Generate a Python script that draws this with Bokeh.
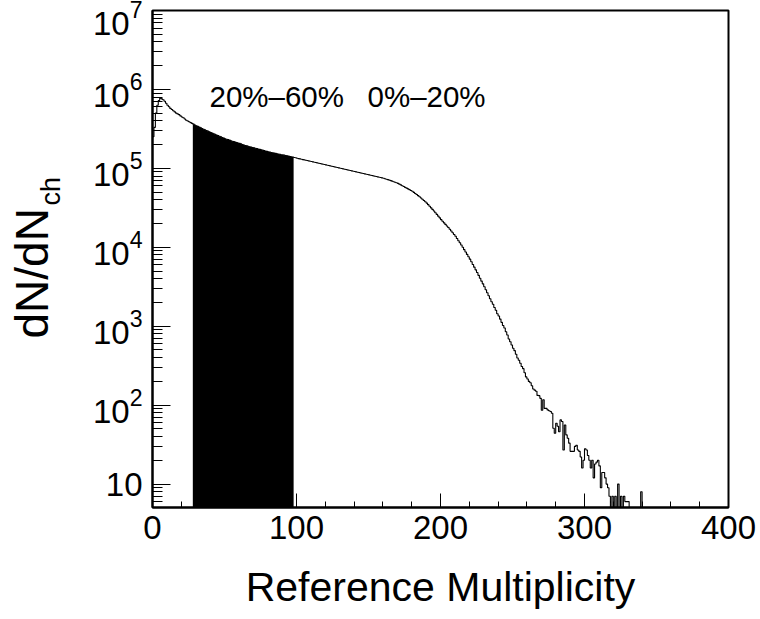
from bokeh.plotting import figure
from bokeh.models import FixedTicker, LogTickFormatter, Label, Range1d, Title
from bokeh.embed import file_html
from bokeh.resources import INLINE

# ---- data: histogram of reference multiplicity, bin width 1, bins start at 0 ----
bin_width = 1
counts = [
    # 0-9
    2.51e5, 3.31e5, 5.01e5, 6.31e5, 7.24e5, 7.76e5, 7.59e5, 7.41e5, 7.08e5, 6.68e5,
    # 10-19
    6.31e5, 6.03e5, 5.75e5, 5.56e5, 5.37e5, 5.19e5, 5.01e5, 4.90e5, 4.79e5, 4.62e5,
    # 20-29
    4.47e5, 4.37e5, 4.22e5, 4.07e5, 3.98e5, 3.89e5, 3.80e5, 3.72e5, 3.63e5, 3.55e5,
    # 30-39
    3.47e5, 3.40e5, 3.33e5, 3.26e5, 3.19e5, 3.13e5, 3.07e5, 3.01e5, 2.96e5, 2.90e5,
    # 40-49
    2.85e5, 2.80e5, 2.75e5, 2.70e5, 2.65e5, 2.60e5, 2.55e5, 2.51e5, 2.46e5, 2.42e5,
    # 50-59
    2.37e5, 2.34e5, 2.31e5, 2.28e5, 2.24e5, 2.21e5, 2.18e5, 2.15e5, 2.12e5, 2.09e5,
    # 60-69
    2.07e5, 2.04e5, 2.01e5, 1.98e5, 1.95e5, 1.93e5, 1.91e5, 1.88e5, 1.86e5, 1.84e5,
    # 70-79
    1.82e5, 1.80e5, 1.78e5, 1.76e5, 1.74e5, 1.72e5, 1.70e5, 1.68e5, 1.66e5, 1.64e5,
    # 80-89
    1.62e5, 1.61e5, 1.59e5, 1.58e5, 1.56e5, 1.55e5, 1.53e5, 1.52e5, 1.51e5, 1.49e5,
    # 90-99
    1.48e5, 1.47e5, 1.45e5, 1.44e5, 1.43e5, 1.41e5, 1.40e5, 1.39e5, 1.37e5, 1.36e5,
    # 100-109
    1.343e5, 1.330e5, 1.317e5, 1.304e5, 1.292e5, 1.279e5, 1.267e5, 1.255e5, 1.243e5, 1.231e5,
    # 110-119
    1.219e5, 1.207e5, 1.196e5, 1.184e5, 1.173e5, 1.161e5, 1.150e5, 1.139e5, 1.128e5, 1.117e5,
    # 120-129
    1.106e5, 1.096e5, 1.085e5, 1.075e5, 1.064e5, 1.054e5, 1.044e5, 1.034e5, 1.024e5, 1.014e5,
    # 130-139
    1.004e5, 9.94e4, 9.85e4, 9.75e4, 9.66e4, 9.56e4, 9.47e4, 9.38e4, 9.29e4, 9.20e4,
    # 140-149
    9.11e4, 9.02e4, 8.93e4, 8.85e4, 8.76e4, 8.68e4, 8.59e4, 8.51e4, 8.43e4, 8.35e4,
    # 150-159
    8.27e4, 8.19e4, 8.11e4, 8.03e4, 7.95e4, 7.87e4, 7.80e4, 7.72e4, 7.65e4, 7.57e4,
    # 160-169
    7.50e4, 7.40e4, 7.29e4, 7.19e4, 7.10e4, 7.00e4, 6.89e4, 6.78e4, 6.67e4, 6.56e4,
    # 170-179
    6.46e4, 6.31e4, 6.17e4, 6.03e4, 5.89e4, 5.75e4, 5.62e4, 5.50e4, 5.37e4, 5.25e4,
    # 180-189
    5.13e4, 4.97e4, 4.81e4, 4.66e4, 4.51e4, 4.37e4, 4.21e4, 4.06e4, 3.91e4, 3.77e4,
    # 190-199
    3.63e4, 3.47e4, 3.31e4, 3.16e4, 3.02e4, 2.88e4, 2.74e4, 2.61e4, 2.48e4, 2.36e4,
    # 200-209
    2.24e4, 2.14e4, 2.04e4, 1.95e4, 1.86e4, 1.78e4, 1.69e4, 1.61e4, 1.53e4, 1.45e4,
    # 210-219
    1.38e4, 1.29e4, 1.21e4, 1.14e4, 1.07e4, 1.00e4, 9330, 8710, 8130, 7590,
    # 220-229
    7080, 6550, 6050, 5600, 5180, 4790, 4410, 4060, 3730, 3440,
    # 230-239
    3160, 2900, 2650, 2430, 2230, 2040, 1900, 1730, 1590, 1440,
    # 240-249
    1350, 1230, 1120, 1020, 950, 851, 773, 690, 637, 578,
    # 250-259
    525, 490, 441, 396, 370, 339, 309, 290, 257, 228,
    # 260-269
    214, 200, 192, 176, 160, 155, 150, 133, 132, 122,
    # 270-279
    86, 117, 91, 91, 87, 85, 83, 79, 51, 44,
    # 280-289
    59, 54, 46, 65, 62, 27, 56, 42, 38, 33,
    # 290-299
    26, 26, 26, 30, 31, 27, 26, 22, 16, 20,
    # 300-309
    28, 27, 23, 20, 16, 20, 12, 18, 19, 20,
    # 310-319
    17, 9, 14, 14, 12, 10, 9, 7, 0, 7,
    # 320-329
    0, 7, 0, 10, 0, 7, 0, 7, 6, 6,
    # 330-340
    6, 0, 0, 0, 0, 0, 0, 0, 0, 8, 0,
]
fill_lo, fill_hi = 28, 98          # shaded 20%-60% centrality window
region_labels = ["20%\u201360%", "0%\u201320%"]
x_major = [0, 100, 200, 300, 400]
x_minor = list(range(0, 401, 20))
y_major = [1e1, 1e2, 1e3, 1e4, 1e5, 1e6, 1e7]
y_minor = [m * 10 ** e for e in range(0, 7) for m in range(2, 10)]
x_label = "Reference Multiplicity"
y_label_main, y_label_sub = "dN/dN", "ch"

FONT = "Liberation Sans"
FLOOR = 0.1  # stand-in for empty bins on the log axis (below the visible range)

p = figure(width=760, height=619, y_axis_type="log",
           x_range=Range1d(0, 400), y_range=Range1d(5.05, 1e7),
           output_backend="svg", toolbar_location=None,
           min_border_left=152, min_border_right=32,
           min_border_top=10, min_border_bottom=112)
p.background_fill_color = "white"
p.border_fill_color = "white"
p.outline_line_color = "black"
p.outline_line_width = 2
p.grid.visible = False

# histogram outline
edges = [i * bin_width for i in range(len(counts) + 1)]
vals = [c if c > 0 else FLOOR for c in counts]
p.step(x=edges, y=vals + [vals[-1]], mode="after", line_color="black", line_width=1.1)

# filled window
fx = edges[fill_lo:fill_hi + 1]
fy = vals[fill_lo:fill_hi] + [vals[fill_hi - 1]]
p.varea_step(x=fx, y1=[FLOOR] * len(fx), y2=fy, step_mode="after", fill_color="black")

# axes
xa = p.xaxis[0]
xa.ticker = FixedTicker(ticks=x_major, minor_ticks=x_minor)
xa.axis_label = x_label
ya = p.yaxis[0]
ya.ticker = FixedTicker(ticks=y_major, minor_ticks=y_minor)
ya.formatter = LogTickFormatter(min_exponent=2)
for ax in (xa, ya):
    ax.axis_line_width = 2
    ax.major_tick_out = 0
    ax.minor_tick_out = 0
    ax.major_tick_line_width = 1
    ax.minor_tick_line_width = 1
    ax.major_label_text_font = FONT
    ax.major_label_text_font_size = "33px"
    ax.major_label_text_color = "black"
    ax.axis_label_text_font = FONT
    ax.axis_label_text_font_style = "normal"
    ax.axis_label_text_color = "black"
xa.major_tick_in = 14
xa.minor_tick_in = 6
xa.major_label_standoff = 8
xa.axis_label_text_font_size = "41px"
xa.axis_label_standoff = 22
ya.major_tick_in = 18
ya.minor_tick_in = 10
ya.major_label_standoff = 10

# y-axis title dN/dN_ch : two side titles (subscript nearer the frame)
t_sub = Title(text=y_label_sub, align="left", offset=302, standoff=48,
              text_font=FONT, text_font_size="27px", text_font_style="normal",
              text_color="black", vertical_align="bottom")
t_main = Title(text=y_label_main, align="left", offset=169, standoff=-96,
               text_font=FONT, text_font_size="46px", text_font_style="normal",
               text_color="black", vertical_align="bottom")
p.add_layout(t_sub, "left")
p.add_layout(t_main, "left")

# region annotations
for txt, sx in zip(region_labels, [57, 215]):
    p.add_layout(Label(x=sx, y=411, x_units="screen", y_units="screen", text=txt,
                       text_font=FONT, text_font_size="29.5px", text_color="black",
                       text_align="left", text_baseline="alphabetic"))

open("out.html", "w").write(file_html(p, INLINE))
